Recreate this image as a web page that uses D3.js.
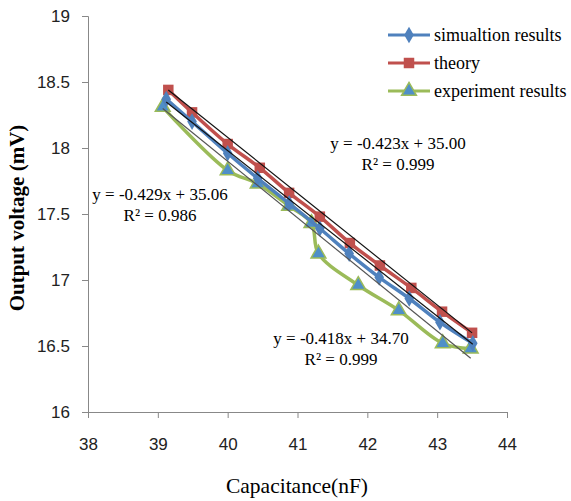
<!DOCTYPE html>
<html>
<head>
<meta charset="utf-8">
<script src="https://cdn.jsdelivr.net/npm/d3@7"></script>
<style>
  body { margin: 0; background: #fff; }
  text { font-family: "Liberation Serif", "Times New Roman", serif; fill: #000; }
</style>
</head>
<body>
<div class="chart"></div>
<script>
// data
var simX = [39.12, 39.49, 40.0, 40.43, 40.88, 41.32, 41.74, 42.17, 42.6, 43.04, 43.51];
var simY = [18.37, 18.2, 17.96, 17.77, 17.58, 17.39, 17.2, 17.02, 16.86, 16.68, 16.52];
var theoryX = [39.15, 39.49, 40.0, 40.46, 40.88, 41.32, 41.75, 42.18, 42.63, 43.07, 43.5];
var theoryY = [18.44, 18.27, 18.03, 17.85, 17.66, 17.48, 17.28, 17.11, 16.94, 16.76, 16.6];
var expX = [39.07, 40.0, 40.43, 40.88, 41.2, 41.3, 41.87, 42.45, 43.08, 43.48];
var expY = [18.31, 17.83, 17.73, 17.56, 17.43, 17.2, 16.96, 16.77, 16.52, 16.48];

var seriesNames = ["simualtion results", "theory", "experiment results"];
var trendSlope = [-0.418, -0.423, -0.429];
var trendIntercept = [34.70, 35.00, 35.06];
var trendR2 = ["0.999", "0.999", "0.986"];

var xTicks = [38, 39, 40, 41, 42, 43, 44];
var yTicks = [16, 16.5, 17, 17.5, 18, 18.5, 19];

var colors = ["#4F81BD", "#C0504D", "#9BBB59"];

// set the dimensions and margins of the graph
var margin = { top: 16, right: 64, bottom: 89, left: 88 },
	width = 571 - margin.left - margin.right,
	height = 501 - margin.top - margin.bottom;

var root = d3.select(".chart").append("svg")
	.attr("width", 571)
	.attr("height", 501);
var svg = root.append("g")
	.attr("transform", "translate(" + margin.left + "," + margin.top + ")");

var x = d3.scaleLinear().domain([38, 44]).range([0, width]);
var y = d3.scaleLinear().domain([16, 19]).range([height, 0]);

// axes
var xAxis = svg.append("g")
	.attr("transform", "translate(0," + height + ")")
	.call(d3.axisBottom(x).tickValues(xTicks).tickSize(6).tickPadding(20)
		.tickFormat(d3.format("d")));
var yAxis = svg.append("g")
	.call(d3.axisLeft(y).tickValues(yTicks).tickSize(6).tickPadding(12)
		.tickFormat(function (d) { return String(d); }));

[xAxis, yAxis].forEach(function (a) {
	a.attr("font-family", "Liberation Sans, Arial, sans-serif").attr("font-size", 17);
	a.select(".domain").attr("stroke", "#888");
	a.selectAll(".tick line").attr("stroke", "#888");
	a.selectAll(".tick text")
		.style("font-family", "Liberation Sans, Arial, sans-serif")
		.style("font-size", "17px")
		.style("fill", "#222");
});

// axis titles
root.append("text")
	.attr("x", 297)
	.attr("y", 493)
	.attr("text-anchor", "middle")
	.style("font-size", "21.5px")
	.text("Capacitance(nF)");

root.append("text")
	.attr("transform", "translate(24,218) rotate(-90)")
	.attr("text-anchor", "middle")
	.style("font-size", "21px")
	.style("font-weight", "bold")
	.text("Output voltage (mV)");

var allX = [simX, theoryX, expX];
var allY = [simY, theoryY, expY];

function pts(i) {
	return allX[i].map(function (v, j) { return [v, allY[i][j]]; });
}

var line = d3.line()
	.x(function (d) { return x(d[0]); })
	.y(function (d) { return y(d[1]); })
	.curve(d3.curveCatmullRom.alpha(0.5));

var symbols = [d3.symbolDiamond, d3.symbolSquare, d3.symbolTriangle];
var symSize = [80, 110, 95];

function marker(sel, i, px, py) {
	var m = sel.append("path")
		.attr("d", d3.symbol().type(symbols[i]).size(symSize[i])())
		.attr("transform", "translate(" + px + "," + py + ")");
	if (i === 2) {
		m.attr("fill", "#4F8FC8").attr("stroke", colors[2]).attr("stroke-width", 1.5);
	} else {
		m.attr("fill", colors[i]);
	}
}

// draw series: experiment, theory, simulation
[2, 1, 0].forEach(function (i) {
	var g = svg.append("g");
	g.append("path")
		.datum(pts(i))
		.attr("fill", "none")
		.attr("stroke", colors[i])
		.attr("stroke-width", 3.5)
		.attr("d", line);
	pts(i).forEach(function (d) { marker(g, i, x(d[0]), y(d[1])); });
});

// linear trendlines
var trendColor = ["#111", "#111", "#555"];
[0, 1, 2].forEach(function (i) {
	var x0 = d3.min(allX[i]), x1 = d3.max(allX[i]);
	svg.append("line")
		.attr("x1", x(x0)).attr("y1", y(trendSlope[i] * x0 + trendIntercept[i]))
		.attr("x2", x(x1)).attr("y2", y(trendSlope[i] * x1 + trendIntercept[i]))
		.attr("stroke", trendColor[i])
		.attr("stroke-width", 1.2);
});

// equation labels (page coordinates of label centre and baseline)
var eqPos = [[341, 344], [398, 149], [160, 200]];
var fmt = d3.format(".3f"), fmt2 = d3.format(".2f");
[0, 1, 2].forEach(function (i) {
	var t = root.append("text")
		.attr("x", eqPos[i][0])
		.attr("y", eqPos[i][1])
		.attr("text-anchor", "middle")
		.style("font-size", "17px");
	t.append("tspan").text("y = " + fmt(trendSlope[i]).replace("\u2212", "-") + "x + " + fmt2(trendIntercept[i]));
	t.append("tspan")
		.attr("x", eqPos[i][0])
		.attr("dy", 21)
		.text("R\u00b2 = " + trendR2[i]);
});

// legend
var legend = root.append("g").attr("transform", "translate(388,35)");
seriesNames.forEach(function (name, i) {
	var row = legend.append("g").attr("transform", "translate(0," + (i * 28) + ")");
	row.append("line")
		.attr("x1", 0).attr("x2", 42)
		.attr("stroke", colors[i]).attr("stroke-width", 3);
	marker(row, i, 21, 0);
	row.append("text")
		.attr("x", 46)
		.attr("dy", "0.32em")
		.style("font-size", "18px")
		.text(name);
});
</script>
</body>
</html>
